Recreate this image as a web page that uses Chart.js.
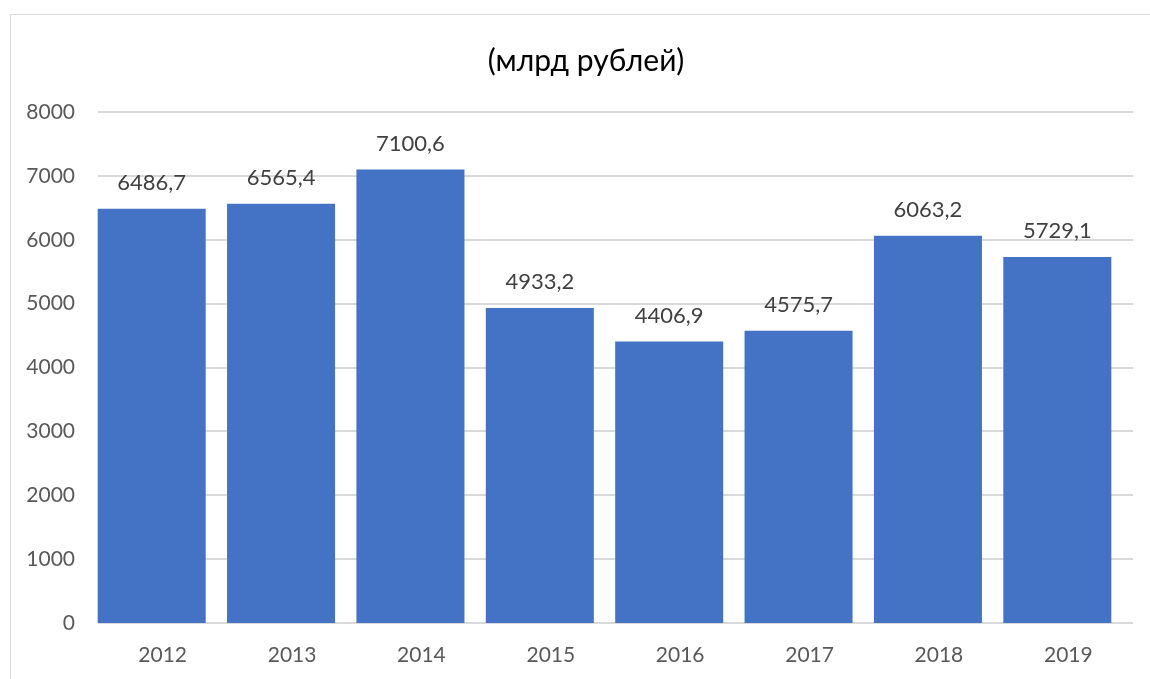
<!DOCTYPE html>
<html>
<head>
<meta charset="utf-8">
<script src="https://cdn.jsdelivr.net/npm/chart.js@4/dist/chart.umd.min.js"></script>
<style>
  html, body { margin: 0; padding: 0; background: #fff; overflow: hidden; }
  #frame {
    position: absolute; left: 10px; top: 14px;
    width: 1151px; height: 700px;
    border: 1px solid #d9d9d9; background: #fff;
  }
  #wrap { position: relative; width: 1151px; height: 665px; }
</style>
</head>
<body>
<div id="frame"><div id="wrap"><canvas id="c"></canvas></div></div>
<script>
const years = ['2012', '2013', '2014', '2015', '2016', '2017', '2018', '2019'];
const values = [6486.7, 6565.4, 7100.6, 4933.2, 4406.9, 4575.7, 6063.2, 5729.1];
const titleText = '(млрд рублей)';
const yTicks = [0, 1000, 2000, 3000, 4000, 5000, 6000, 7000, 8000];

const FONT = 'Lato, "Open Sans", sans-serif';
const GRID_SHIFT = 11;   // gridlines and year labels sit slightly right of the bars

// Horizontal gridlines and the baseline, placed by the y scale
const gridLines = {
  id: 'gridLines',
  beforeDatasetsDraw(chart) {
    const { ctx, chartArea, scales } = chart;
    const x0 = chartArea.left + GRID_SHIFT;
    const x1 = chartArea.right + GRID_SHIFT;
    ctx.save();
    ctx.strokeStyle = '#d9d9d9';
    ctx.lineWidth = 2;
    scales.y.ticks.forEach(t => {
      const y = Math.round(scales.y.getPixelForValue(t.value));
      ctx.beginPath();
      ctx.moveTo(x0, y);
      ctx.lineTo(x1, y);
      ctx.stroke();
    });
    ctx.restore();
  }
};

// Title text centred over the chart frame
const titleDraw = {
  id: 'titleDraw',
  afterDraw(chart) {
    const ctx = chart.ctx;
    ctx.save();
    ctx.font = '30px ' + FONT;
    ctx.fillStyle = '#000000';
    ctx.textAlign = 'center';
    ctx.textBaseline = 'middle';
    ctx.fillText(titleText, 575, 46);
    ctx.restore();
  }
};

// Value labels above each bar, written with a decimal comma
const barLabels = {
  id: 'barLabels',
  afterDatasetsDraw(chart) {
    const ctx = chart.ctx;
    const meta = chart.getDatasetMeta(0);
    ctx.save();
    ctx.font = '22px ' + FONT;
    ctx.fillStyle = '#404040';
    ctx.textAlign = 'center';
    ctx.textBaseline = 'middle';
    meta.data.forEach((bar, i) => {
      const txt = values[i].toFixed(1).replace('.', ',');
      ctx.fillText(txt, bar.x, bar.y - 26);
    });
    ctx.restore();
  }
};

new Chart(document.getElementById('c'), {
  type: 'bar',
  data: {
    labels: years,
    datasets: [{
      data: values,
      backgroundColor: '#4472C4',
      borderWidth: 0,
      barPercentage: 0.835,
      categoryPercentage: 1.0
    }]
  },
  options: {
    responsive: true,
    maintainAspectRatio: false,
    animation: false,
    layout: { padding: { left: 0, right: 40, top: 97, bottom: 0 } },
    plugins: {
      legend: { display: false },
      tooltip: { enabled: false },
      title: { display: false }
    },
    scales: {
      x: {
        grid: { display: false, drawTicks: false },
        border: { display: false },
        ticks: {
          color: '#595959',
          font: { family: FONT, size: 21 },
          padding: 20,
          labelOffset: GRID_SHIFT
        },
        afterFit(scale) { scale.height = 57; }
      },
      y: {
        min: 0,
        max: 8000,
        afterBuildTicks(scale) { scale.ticks = yTicks.map(v => ({ value: v })); },
        grid: { display: false, drawTicks: false },
        border: { display: false },
        ticks: {
          color: '#595959',
          font: { family: FONT, size: 21 },
          padding: 12,
          callback: v => String(v)
        },
        afterFit(scale) { scale.width = 76; }
      }
    }
  },
  plugins: [gridLines, barLabels, titleDraw]
});
</script>
</body>
</html>
